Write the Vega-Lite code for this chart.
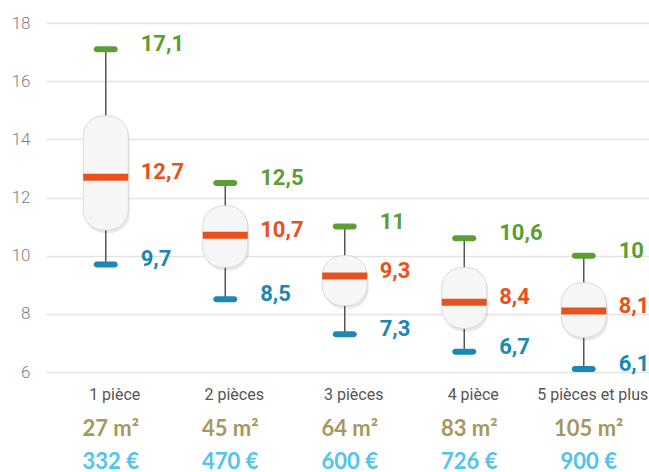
{
  "$schema": "https://vega.github.io/schema/vega-lite/v6.json",
  "width": 603,
  "height": 349,
  "autosize": "none",
  "padding": {"left": 46, "top": 23, "right": 0, "bottom": 100},
  "background": "#ffffff",
  "config": {
    "view": {"stroke": null},
    "locale": {"number": {"decimal": ",", "thousands": " ", "grouping": [3], "currency": ["", " €"]}}
  },
  "data": {
    "values": [
      {"cat": "1 pièce", "min": 9.7, "q1": 10.88, "median": 12.7, "q3": 14.81, "max": 17.1, "surface": "27 m²", "loyer": "332 €"},
      {"cat": "2 pièces", "min": 8.5, "q1": 9.59, "median": 10.7, "q3": 11.71, "max": 12.5, "surface": "45 m²", "loyer": "470 €"},
      {"cat": "3 pièces", "min": 7.3, "q1": 8.28, "median": 9.3, "q3": 10.0, "max": 11, "surface": "64 m²", "loyer": "600 €"},
      {"cat": "4 pièce", "min": 6.7, "q1": 7.5, "median": 8.4, "q3": 9.59, "max": 10.6, "surface": "83 m²", "loyer": "726 €"},
      {"cat": "5 pièces et plus", "min": 6.1, "q1": 7.19, "median": 8.1, "q3": 9.07, "max": 10, "surface": "105 m²", "loyer": "900 €"}
    ]
  },
  "encoding": {
    "x": {
      "field": "cat",
      "type": "nominal",
      "sort": null,
      "title": null,
      "scale": {"paddingInner": 0, "paddingOuter": 0.023, "align": 0},
      "axis": {
        "labelAngle": 0,
        "domain": false,
        "ticks": false,
        "grid": false,
        "labelPadding": 14,
        "labelOffset": 9,
        "labelFont": "Roboto",
        "labelFontSize": 16,
        "labelColor": "#555555",
        "labelFontWeight": "normal"
      }
    }
  },
  "layer": [
    {
      "mark": {"type": "rule", "color": "#555555", "strokeWidth": 1.5},
      "encoding": {
        "y": {
          "field": "min",
          "type": "quantitative",
          "title": null,
          "scale": {"domain": [6, 18], "nice": false, "zero": false},
          "axis": {
            "values": [6, 8, 10, 12, 14, 16, 18],
            "domain": false,
            "ticks": false,
            "grid": true,
            "gridColor": "#e3e3e3",
            "gridWidth": 1.5,
            "labelPadding": 16,
            "labelFont": "Roboto",
            "labelFontWeight": 300,
            "labelFontSize": 17,
            "labelColor": "#7f7f7f"
          }
        },
        "y2": {"field": "max"}
      }
    },
    {
      "mark": {"type": "bar", "width": 45, "cornerRadius": 20, "color": "#000000", "opacity": 0.09, "xOffset": 1.5, "x2Offset": 1.5, "yOffset": 3, "y2Offset": 3},
      "encoding": {
        "y": {"field": "q1", "type": "quantitative", "title": null},
        "y2": {"field": "q3"}
      }
    },
    {
      "mark": {"type": "bar", "width": 45, "cornerRadius": 20, "fill": "#f6f6f6", "stroke": "#d9d9d9", "strokeWidth": 1},
      "encoding": {
        "y": {"field": "q1", "type": "quantitative", "title": null},
        "y2": {"field": "q3"}
      }
    },
    {
      "mark": {"type": "tick", "size": 45, "thickness": 7, "color": "#e8501d", "opacity": 1},
      "encoding": {"y": {"field": "median", "type": "quantitative", "title": null}}
    },
    {
      "mark": {"type": "tick", "size": 24, "thickness": 6, "cornerRadius": 3, "color": "#5a9e34", "opacity": 1},
      "encoding": {"y": {"field": "max", "type": "quantitative", "title": null}}
    },
    {
      "mark": {"type": "tick", "size": 24, "thickness": 6, "cornerRadius": 3, "color": "#1b87b5", "opacity": 1},
      "encoding": {"y": {"field": "min", "type": "quantitative", "title": null}}
    },
    {
      "mark": {"type": "text", "align": "left", "baseline": "alphabetic", "dx": 35, "dy": 2, "font": "Roboto", "fontSize": 22, "fontWeight": "bold", "color": "#5a9e34"},
      "encoding": {
        "y": {"field": "max", "type": "quantitative", "title": null},
        "text": {"field": "max", "type": "quantitative", "format": ".1~f"}
      }
    },
    {
      "mark": {"type": "text", "align": "left", "baseline": "alphabetic", "dx": 35, "dy": 2, "font": "Roboto", "fontSize": 22, "fontWeight": "bold", "color": "#e8501d"},
      "encoding": {
        "y": {"field": "median", "type": "quantitative", "title": null},
        "text": {"field": "median", "type": "quantitative", "format": ".1~f"}
      }
    },
    {
      "mark": {"type": "text", "align": "left", "baseline": "alphabetic", "dx": 35, "dy": 2, "font": "Roboto", "fontSize": 22, "fontWeight": "bold", "color": "#1b87b5"},
      "encoding": {
        "y": {"field": "min", "type": "quantitative", "title": null},
        "text": {"field": "min", "type": "quantitative", "format": ".1~f"}
      }
    },
    {
      "mark": {"type": "text", "align": "center", "baseline": "alphabetic", "dx": 5, "dy": 64, "font": "Lato", "fontSize": 22, "fontWeight": "bold", "color": "#a8975c"},
      "encoding": {
        "y": {"datum": 6, "type": "quantitative"},
        "text": {"field": "surface", "type": "nominal"}
      }
    },
    {
      "mark": {"type": "text", "align": "center", "baseline": "alphabetic", "dx": 5, "dy": 97, "font": "Lato", "fontSize": 22, "fontWeight": "bold", "color": "#52c3ea"},
      "encoding": {
        "y": {"datum": 6, "type": "quantitative"},
        "text": {"field": "loyer", "type": "nominal"}
      }
    }
  ]
}
